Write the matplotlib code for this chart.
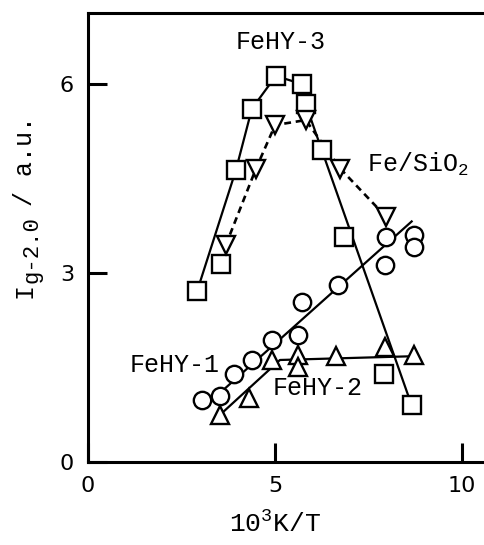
import matplotlib
matplotlib.use("Agg")
import matplotlib.pyplot as plt

plt.rcParams["mathtext.fontset"] = "custom"
plt.rcParams["mathtext.rm"] = "Liberation Mono"
plt.rcParams["mathtext.it"] = "Liberation Mono"
plt.rcParams["mathtext.tt"] = "Liberation Mono"

# FeHY-1 (circles)
fehy1_x = [3.04, 3.53, 3.89, 4.38, 4.91, 5.62, 5.71, 6.68, 7.94, 7.97, 8.70, 8.70]
fehy1_y = [0.98, 1.05, 1.40, 1.62, 1.94, 2.02, 2.54, 2.81, 3.13, 3.58, 3.60, 3.42]
fehy1_fit_x = [3.25, 8.65]
fehy1_fit_y = [0.95, 3.82]

# FeHY-2 (up triangles)
fehy2_x = [3.53, 4.29, 4.91, 5.62, 5.62, 6.63, 7.94, 8.70]
fehy2_y = [0.75, 1.02, 1.62, 1.70, 1.51, 1.69, 1.83, 1.70]
fehy2_fit_x = [3.53, 5.13, 8.70]
fehy2_fit_y = [0.75, 1.62, 1.68]

# FeHY-3 (squares)
fehy3_x = [2.92, 3.55, 3.95, 4.38, 5.02, 5.73, 5.82, 6.25, 6.83, 7.90, 8.65]
fehy3_y = [2.72, 3.15, 4.63, 5.61, 6.13, 6.00, 5.68, 4.95, 3.58, 1.40, 0.90]
fehy3_fit_x = [2.92, 3.95, 4.38, 5.02, 5.73, 5.82, 6.25, 8.65]
fehy3_fit_y = [2.72, 4.63, 5.61, 6.13, 6.00, 5.68, 4.95, 0.90]

# Fe/SiO2 (down triangles, dashed)
fesio2_x = [3.68, 4.49, 5.00, 5.82, 6.74, 7.97]
fesio2_y = [3.44, 4.66, 5.35, 5.43, 4.66, 3.89]

mono = "Liberation Mono"
W, H = 485, 545

fig = plt.figure(figsize=(W / 100, H / 100), dpi=100)
ax = fig.add_axes([88 / W, 83 / H, 1 - 88 / W, 449 / H])

lw = 1.6
ax.plot(fehy3_fit_x, fehy3_fit_y, color="black", lw=lw, zorder=2)
ax.plot(fesio2_x, fesio2_y, color="black", lw=1.9, ls=(0, (2.6, 1.8)), zorder=2)
ax.plot(fehy1_fit_x, fehy1_fit_y, color="black", lw=lw, zorder=2)
ax.plot(fehy2_fit_x, fehy2_fit_y, color="black", lw=lw, zorder=2)

mk = dict(ls="none", mfc="white", mec="black", mew=1.7, zorder=3)
ax.plot(fehy3_x, fehy3_y, marker="s", ms=12.5, **mk)
ax.plot(fesio2_x, fesio2_y, marker="v", ms=12.5, **mk)
ax.plot(fehy1_x, fehy1_y, marker="o", ms=12.5, **mk)
ax.plot(fehy2_x, fehy2_y, marker="^", ms=12.5, **mk)

ax.text(5.16, 6.67, "FeHY-3", family=mono, fontsize=18, ha="center", va="center")
ax.text(7.45, 4.72, "Fe/SiO$_2$", family=mono, fontsize=18, ha="left", va="center")
ax.text(1.1, 1.54, "FeHY-1", family=mono, fontsize=18, ha="left", va="center")
ax.text(4.93, 1.17, "FeHY-2", family=mono, fontsize=18, ha="left", va="center")

ax.set_xlim(0, 10.61)
ax.set_ylim(0, 7.13)
ax.set_xticks([0, 5, 10])
ax.set_yticks([0, 3, 6])
ax.tick_params(direction="in", length=14, width=2.2, labelsize=16, pad=10)
for side in ["left", "bottom", "top"]:
    ax.spines[side].set_linewidth(2.2)
ax.spines["right"].set_visible(False)

fig.text(275 / W, 1 - 524 / H, "10$^3$K/T", family=mono, fontsize=19,
         ha="center", va="center")

# y label: I with a near full-size subscript, then "/ a.u."
ylab = dict(family=mono, rotation=90, rotation_mode="anchor",
            ha="left", va="baseline")
fig.text(32 / W, 1 - 298 / H, "I", fontsize=18, **ylab)
fig.text(37 / W, 1 - 283 / H, "g-2.0", fontsize=16, **ylab)
fig.text(32 / W, 1 - 206 / H, "/ a.u.", fontsize=18, **ylab)

fig.savefig("out.png", dpi=100)
